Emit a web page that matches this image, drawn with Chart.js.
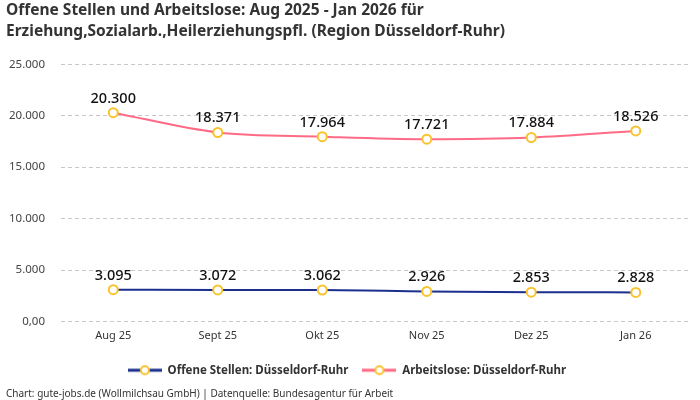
<!DOCTYPE html>
<html><head><meta charset="utf-8">
<script src="https://cdn.jsdelivr.net/npm/chart.js@4"></script>
<style>html,body{margin:0;padding:0;background:#fff}#wrap{width:700px;height:400px}</style>
</head><body><div id="wrap"><canvas id="c"></canvas></div>
<script>
const categories = ["Aug 25","Sept 25","Okt 25","Nov 25","Dez 25","Jan 26"];
const offeneStellen = [3095,3072,3062,2926,2853,2828];
const arbeitslose = [20300,18371,17964,17721,17884,18526];
const yTicks = [0,5000,10000,15000,20000,25000];
const yTickLabels = ["0,00","5.000","10.000","15.000","20.000","25.000"];
const seriesNames = ["Offene Stellen: Düsseldorf-Ruhr","Arbeitslose: Düsseldorf-Ruhr"];
const dataLabels1 = ["3.095","3.072","3.062","2.926","2.853","2.828"];
const dataLabels2 = ["20.300","18.371","17.964","17.721","17.884","18.526"];

const FONT = "'Noto Sans', 'Open Sans', sans-serif";
const navy = '#1b2f8e', pink = '#ff6b85', yellow = '#f8c32c';

function legendIcon(color){
  const c = document.createElement('canvas');
  c.width = 34; c.height = 12;
  const x = c.getContext('2d');
  x.strokeStyle = color; x.lineWidth = 3;
  x.beginPath(); x.moveTo(0,6); x.lineTo(34,6); x.stroke();
  x.fillStyle='#fff'; x.strokeStyle=yellow; x.lineWidth=2;
  x.beginPath(); x.arc(17,6,4,0,Math.PI*2); x.fill(); x.stroke();
  return c;
}

const labelPlugin = {
  id:'vlabels',
  afterDatasetsDraw(chart){
    const ctx = chart.ctx;
    const lbls = [dataLabels1, dataLabels2];
    chart.data.datasets.forEach((ds,i)=>{
      const meta = chart.getDatasetMeta(i);
      meta.data.forEach((pt,j)=>{
        ctx.save();
        ctx.font = "500 14.5px " + FONT;
        ctx.fillStyle = '#111';
        ctx.textAlign='center'; ctx.textBaseline='bottom';
        ctx.fillText(lbls[i][j], pt.x, pt.y - 7);
        ctx.restore();
      });
    });
  }
};

const icons = [legendIcon(navy), legendIcon(pink)];

new Chart(document.getElementById('c'), {
  type:'line',
  data:{
    labels: categories,
    datasets:[
      {label:seriesNames[0], data:offeneStellen, borderColor:navy, backgroundColor:navy, borderWidth:2,
       pointRadius:4.5, pointBackgroundColor:'#fff', pointBorderColor:yellow, pointBorderWidth:2, tension:0.4, cubicInterpolationMode:'monotone'},
      {label:seriesNames[1], data:arbeitslose, borderColor:pink, backgroundColor:pink, borderWidth:2,
       pointRadius:4.5, pointBackgroundColor:'#fff', pointBorderColor:yellow, pointBorderWidth:2, tension:0.4, cubicInterpolationMode:'monotone'}
    ]
  },
  options:{
    responsive:true, maintainAspectRatio:false, animation:false,
    layout:{autoPadding:false, padding:{left:6,right:12,top:0,bottom:0}},
    scales:{
      x:{offset:true, grid:{display:false, drawTicks:false, tickLength:0}, border:{display:false},
         afterFit(axis){ axis.height = 29; },
         ticks:{color:'#333', font:{family:FONT,size:11}, padding:8}},
      y:{min:0,max:25000,
         afterBuildTicks(axis){ axis.ticks = yTicks.map(v=>({value:v})); },
         afterFit(axis){ axis.width = 55; },
         grid:{color:'#c8c8c8', tickLength:0, drawTicks:false, lineWidth:1},
         border:{display:true, width:0, color:'rgba(0,0,0,0)', dash:[4,3]},
         ticks:{color:'#444', font:{family:FONT,size:11.5}, padding:16,
           callback:(v)=>{const k=yTicks.indexOf(v); return k>=0?yTickLabels[k]:'';}}}
    },
    plugins:{
      title:{display:true, align:'start', color:'#333',
        text:["Offene Stellen und Arbeitslose: Aug 2025 - Jan 2026 für","Erziehung,Sozialarb.,Heilerziehungspfl. (Region Düsseldorf-Ruhr)"],
        font:{family:FONT,size:15.5,weight:'bold',lineHeight:1.3}, padding:{top:1,bottom:23}},
      subtitle:{display:true, position:'bottom', align:'start', color:'#333',
        text:"Chart: gute-jobs.de (Wollmilchsau GmbH) | Datenquelle: Bundesagentur für Arbeit",
        font:{family:FONT,size:10,lineHeight:1.2}, padding:{top:2,bottom:0}},
      legend:{position:'bottom', labels:{usePointStyle:true, pointStyleWidth:34, color:'#333', boxHeight:12,
        font:{family:FONT,size:11.5,weight:'bold'}, padding:14,
        generateLabels(chart){ return chart.data.datasets.map((d,i)=>({text:d.label, pointStyle:icons[i], fillStyle:'#fff', strokeStyle:'#fff', lineWidth:0, datasetIndex:i, fontColor:'#333'})); }}},
      tooltip:{enabled:false}
    }
  },
  plugins:[labelPlugin]
});
</script></body></html>
